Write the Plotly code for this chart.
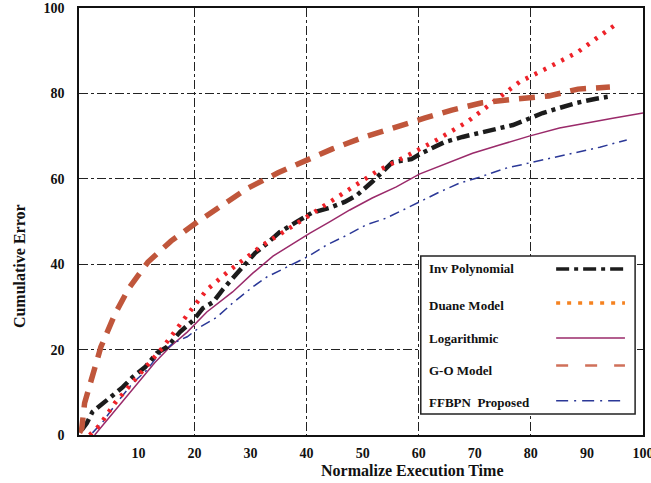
import plotly.graph_objects as go

# ---- data ----
inv_x = [-0.1, 0.8, 1.8, 4.3, 7.2, 9.0, 11.2, 13.3, 15.1, 17.4, 19.8, 21.5, 23.3, 25.0, 28.1, 30.8, 32.6,
         35.2, 38.2, 40.9, 44.1, 46.8, 49.0, 51.7, 55.3, 58.7, 60.5, 62.3, 64.6, 67.8, 70.5, 73.9, 76.8,
         79.5, 82.1, 85.1, 88.2, 91.4, 93.7]
inv_y = [1.2, 2.8, 5.4, 8.2, 11.2, 13.6, 15.9, 19.2, 20.6, 24.1, 26.9, 29.7, 31.1, 34.0, 38.6, 42.6, 44.5,
         47.5, 49.9, 52.0, 53.2, 54.6, 56.2, 59.3, 63.9, 64.6, 66.0, 67.2, 68.6, 69.8, 70.7, 71.9, 72.6,
         74.0, 75.4, 76.6, 77.8, 78.7, 79.2]

duane_x = [1.3, 3.1, 5.8, 9.7, 14.4, 18.7, 22.2, 26.3, 32.2, 38.8, 44.2, 47.7, 52.6, 57.8, 63.2, 68.6,
           73.2, 78.0, 83.3, 88.4, 91.8, 95.0]
duane_y = [0.0, 2.3, 7.5, 13.3, 20.6, 28.1, 34.0, 38.6, 44.5, 50.0, 54.6, 57.6, 61.8, 65.3, 69.1, 73.3,
           77.8, 82.7, 86.2, 89.7, 93.0, 96.0]

log_x = [2.2, 4.9, 8.5, 12.9, 15.6, 18.7, 22.2, 26.8, 30.4, 34.0, 38.3, 40.6, 44.1, 47.7, 51.7, 56.0,
         60.1, 65.0, 69.6, 74.4, 79.7, 85.1, 89.9, 94.6, 100.0]
log_y = [0.0, 4.2, 9.8, 16.9, 20.6, 24.1, 28.8, 33.5, 37.9, 41.9, 45.4, 47.3, 49.9, 52.7, 55.5, 58.1,
         61.1, 63.7, 66.0, 67.9, 70.0, 71.9, 73.1, 74.2, 75.4]

go_x = [-0.5, -0.1, 0.4, 1.7, 3.3, 5.8, 8.3, 11.7, 15.8, 20.5, 24.9, 29.5, 34.9, 39.6, 44.6, 50.3,
        55.7, 61.0, 65.9, 71.3, 77.4, 83.2, 88.4, 94.1]
go_y = [0.5, 1.6, 7.5, 13.8, 20.6, 28.3, 34.4, 40.5, 45.4, 49.9, 53.9, 57.8, 61.4, 64.2, 67.0, 69.8,
        72.1, 74.2, 76.1, 77.8, 78.7, 79.4, 81.0, 81.5]

ffbpn_x = [1.8, 3.6, 6.1, 9.0, 11.5, 13.3, 16.2, 18.7, 21.0, 24.0, 26.8, 30.4, 32.9, 36.5, 40.1, 43.6,
           47.2, 50.6, 54.2, 58.3, 61.4, 63.7, 67.3, 70.9, 75.6, 79.7, 83.9, 88.2, 92.3, 97.1]
ffbpn_y = [0.5, 3.0, 7.5, 12.2, 15.2, 18.3, 21.5, 23.0, 25.3, 27.6, 30.9, 34.7, 37.0, 39.3, 41.7, 44.5,
           46.8, 49.2, 50.8, 53.4, 55.5, 56.9, 59.0, 60.4, 62.5, 63.7, 65.1, 66.3, 67.4, 69.1]

x_ticks = [10, 20, 30, 40, 50, 60, 70, 80, 90, 100]
y_ticks = [0, 20, 40, 60, 80, 100]
grid_vals = [20, 40, 60, 80]

series = [
    # name, x, y, color, width, dash, legend color, legend width, legend dash
    ("Inv Polynomial", inv_x, inv_y, "#1c1c1c", 4.5, "13px,5px,4px,5px", "#1c1c1c", 3.5, "13px,5px,4px,5px"),
    ("Duane Model", duane_x, duane_y, "#ee2229", 4.5, "3px,7px", "#f58220", 3.5, "4px,7px"),
    ("Logarithmic", log_x, log_y, "#9a2a6a", 1.5, "solid", "#9a2a6a", 1.5, "solid"),
    ("G-O Model", go_x, go_y, "#c0563b", 5.5, "16px,10px", "#d0705a", 2.5, "12px,17px"),
    ("FFBPN  Proposed", ffbpn_x, ffbpn_y, "#2b3897", 1.5, "10px,5px,2px,5px", "#2b3897", 1.5, "12px,6px,2px,6px"),
]

FONT = "Liberation Serif"

fig = go.Figure()
# invisible trace to activate the grid axes
fig.add_trace(go.Scatter(x=[None], y=[None], xaxis="x2", yaxis="y2", showlegend=False,
                         hoverinfo="skip"))
# draw order: thin lines under thick ones
order = [2, 4, 0, 1, 3]
for i in order:
    name, xs, ys, col, w, dash = series[i][:6]
    fig.add_trace(go.Scatter(x=xs, y=ys, mode="lines", name=name,
                             line=dict(color=col, width=w, dash=dash),
                             showlegend=False))

# custom legend (text left, sample right, as in the reference)
shapes = [dict(type="rect", xref="paper", yref="paper", x0=0.606, x1=0.986, y0=0.049, y1=0.419,
               line=dict(color="#222", width=1.5), fillcolor="white", layer="above")]
annotations = []
text_y = [0.389, 0.304, 0.227, 0.152, 0.077]
samp_y = [0.389, 0.309, 0.227, 0.163, 0.080]
for k, s in enumerate(series):
    name, lcol, lw, ldash = s[0], s[6], s[7], s[8]
    annotations.append(dict(xref="paper", yref="paper", x=0.617, y=text_y[k], xanchor="left",
                            yanchor="middle", text=name, showarrow=False,
                            font=dict(family=FONT, size=13, color="#111", weight="bold")))
    shapes.append(dict(type="line", xref="paper", yref="paper", x0=0.846, x1=0.968,
                       y0=samp_y[k], y1=samp_y[k], layer="above",
                       line=dict(color=lcol, width=lw, dash=ldash)))

annotations.append(dict(xref="paper", yref="paper", x=-0.105, y=0.395, text="Cumulative Error",
                        textangle=-90, showarrow=False, xanchor="center", yanchor="middle",
                        font=dict(family=FONT, size=16, color="#111", weight="bold")))
annotations.append(dict(xref="paper", yref="paper", x=0.592, y=-0.082, text="Normalize Execution Time",
                        showarrow=False, xanchor="center", yanchor="middle",
                        font=dict(family=FONT, size=16, color="#111", weight="bold")))

fig.update_layout(
    width=651, height=483,
    margin=dict(l=79, r=8, t=8, b=48, autoexpand=False),
    paper_bgcolor="white", plot_bgcolor="white",
    shapes=shapes, annotations=annotations,
    showlegend=False,
    xaxis=dict(range=[-0.6, 100], tickvals=x_ticks, ticks="", showgrid=False, zeroline=False,
               showline=True, mirror=True, linecolor="#111", linewidth=1.5, automargin=False,
               ticklabelstandoff=4, ticklabeloverflow="allow",
               tickfont=dict(family=FONT, size=14, color="#111", weight="bold")),
    yaxis=dict(range=[0, 100], tickvals=y_ticks, ticks="", showgrid=False, zeroline=False,
               showline=True, mirror=True, linecolor="#111", linewidth=1.5, automargin=False,
               ticklabelstandoff=10, ticklabeloverflow="allow",
               tickfont=dict(family=FONT, size=14, color="#111", weight="bold")),
    xaxis2=dict(overlaying="x", matches="x", tickvals=grid_vals, showticklabels=False, ticks="",
                showgrid=True, gridcolor="#222", gridwidth=1, griddash="dashdot", zeroline=False,
                showline=False, automargin=False),
    yaxis2=dict(overlaying="y", matches="y", tickvals=grid_vals, showticklabels=False, ticks="",
                showgrid=True, gridcolor="#222", gridwidth=1, griddash="dashdot", zeroline=False,
                showline=False, automargin=False),
)

fig.write_html("out.html", config={"displayModeBar": False},
               post_script="document.body.style.margin='0';document.body.style.overflow='hidden';")
